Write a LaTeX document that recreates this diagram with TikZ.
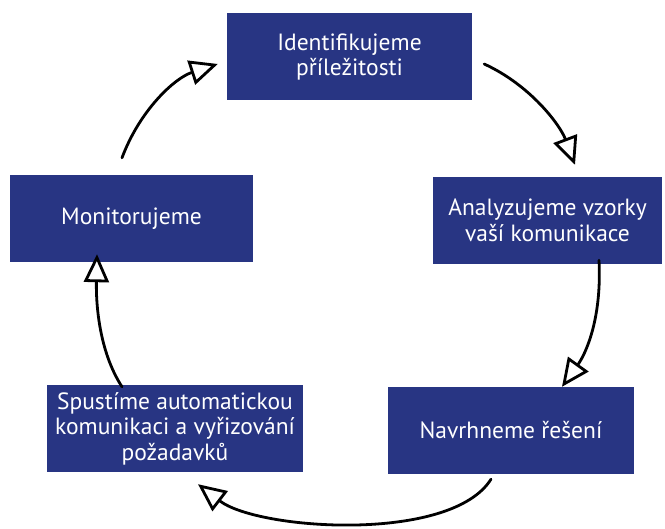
\documentclass[tikz,border=0pt]{standalone}
\usepackage{fontspec}
\setmainfont{PT Sans}
\usetikzlibrary{arrows.meta}
\definecolor{boxblue}{RGB}{40,53,131}
\tikzset{
	stepbox/.style={fill=boxblue, text=white, align=center, inner sep=0pt,
		minimum height=87pt, font=\fontsize{23.5pt}{25.5pt}\selectfont},
	loop/.style={->, line width=2.8pt, black, line cap=round}
}
\begin{document}
\begin{tikzpicture}[x=1pt, y=-1pt, >={Triangle[open, length=28pt, width=25pt, fill=white]}]
				\useasboundingbox (0,0) rectangle (665,529);
				\node[stepbox, minimum width=245pt] (idn) at (349.5,57) {Identifikujeme\\příležitosti};
				\node[stepbox, minimum width=229pt] (ana) at (547.5,220.5) {Analyzujeme vzorky\\vaší komunikace};
				\node[stepbox, minimum width=246pt] (nav) at (511,430.5) {Navrhneme řešení};
				\node[stepbox, minimum width=256pt] (spu) at (175,428.5) {Spustíme automatickou\\komunikaci a vyřizování\\požadavků};
				\node[stepbox, minimum width=243pt] (mon) at (131.5,218.5) {Monitorujeme};
				% hand drawn cycle
				\draw[loop] ([shift={(-9.5,-17)}]mon.north) .. controls +(18,-48) and +(-43,14) ..
				([shift={(-9,7)}]idn.west);
				\draw[loop] ([shift={(12,7)}]idn.east) .. controls +(46,21) and +(-15,-40) ..
				([shift={(27.5,-12)}]ana.north);
				\draw[loop] ([shift={(51.5,-4)}]ana.south) .. controls +(3,60) and +(23,-32) ..
				([shift={(51,0)}]nav.north);
				\draw[loop] ([shift={(-20,5)}]nav.south) .. controls +(-40,64) and +(60,46) ..
				([shift={(23,12)}]spu.south);
				\draw[loop] ([shift={(-53,2)}]spu.north) .. controls +(-24,-37) and +(-1,46) ..
				([shift={(-34.5,-8)}]mon.south);
			\end{tikzpicture}
\end{document}
